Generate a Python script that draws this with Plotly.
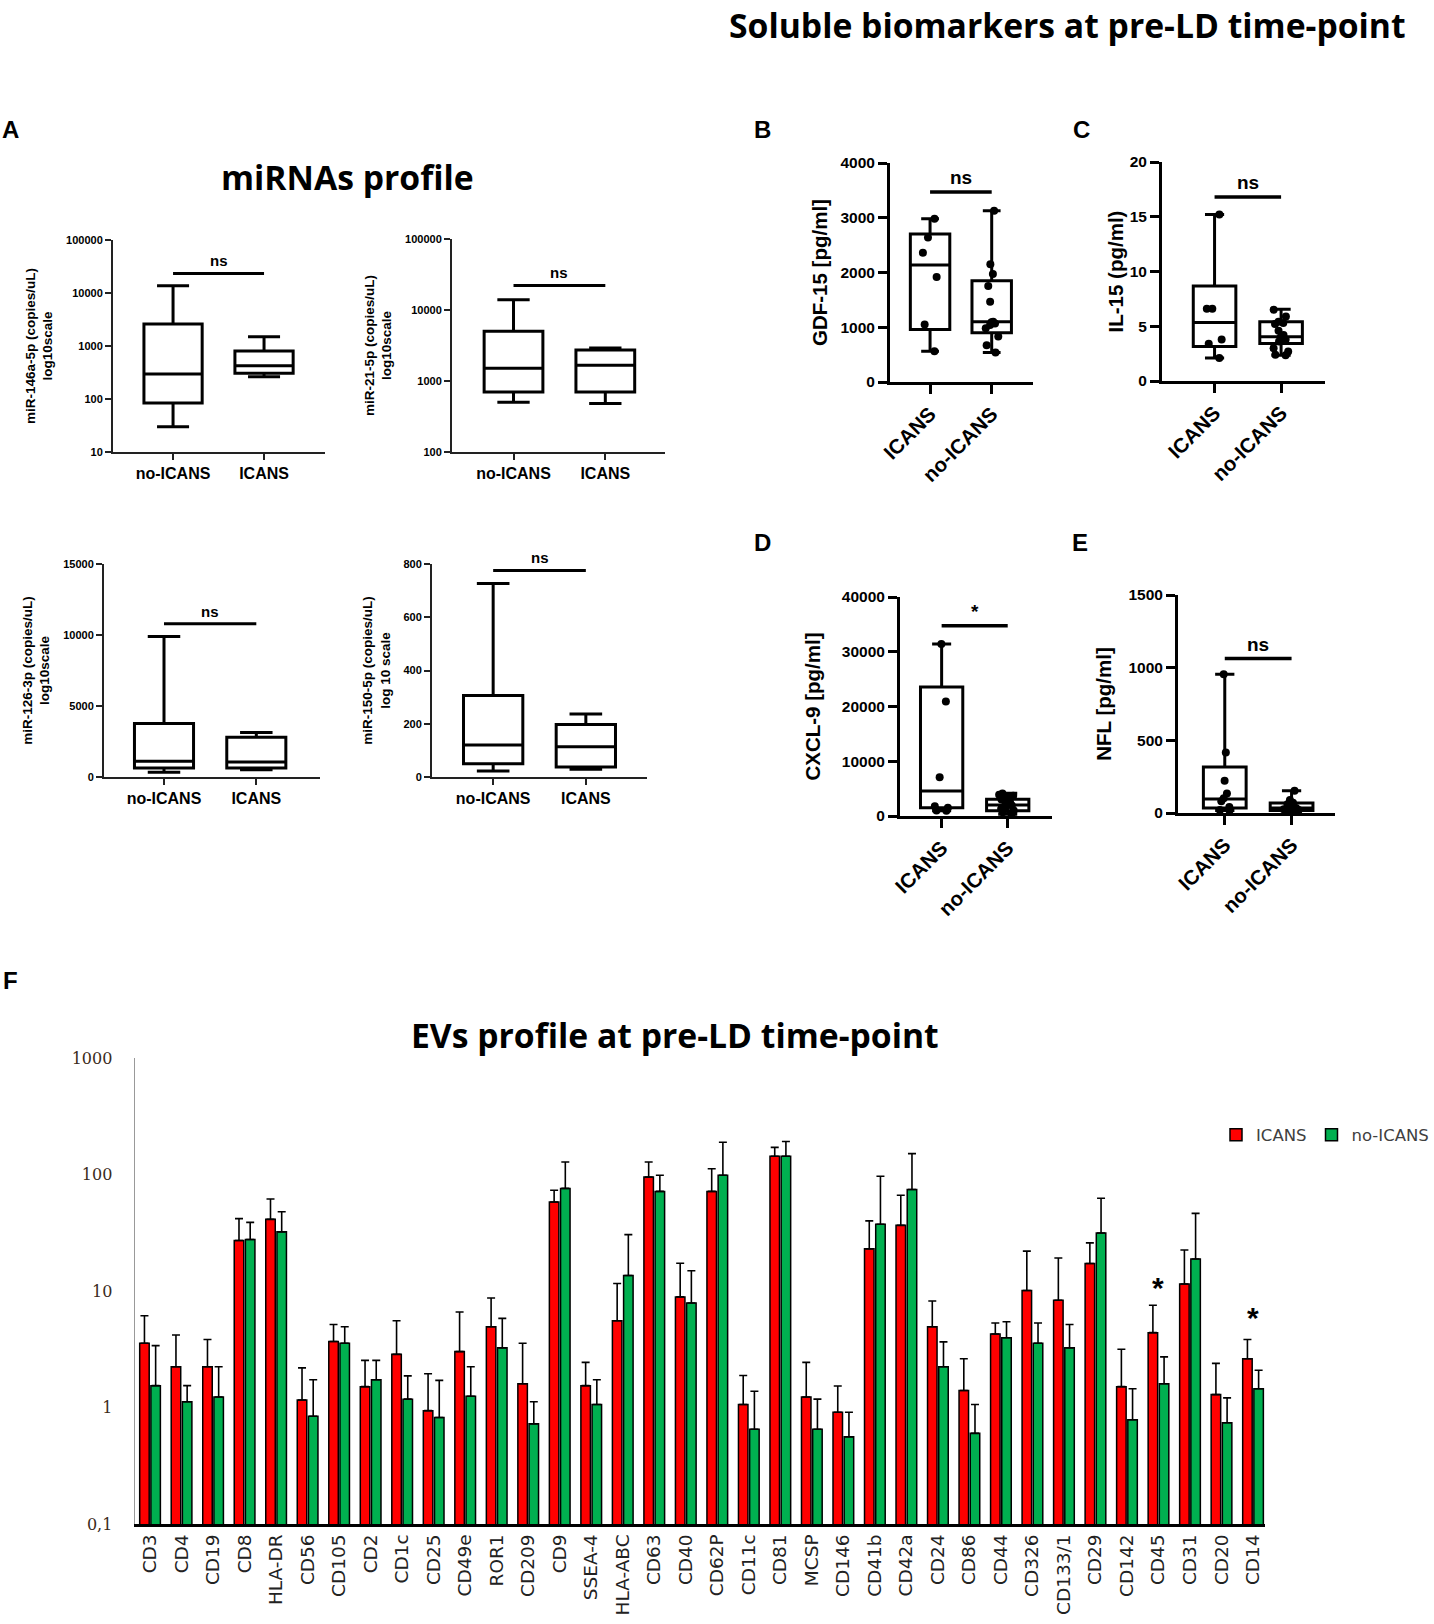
import numpy as np
import plotly.graph_objects as go

W, H = 1434, 1624

# ---------------- DATA ----------------
groups_A = ["no-ICANS", "ICANS"]
groups_B = ["ICANS", "no-ICANS"]

# Panel A - miRNAs (box statistics: min, q1, median, q3, max)
mir146_min = [30, 263]
mir146_q1 = [84, 305]
mir146_med = [297, 425]
mir146_q3 = [2600, 805]
mir146_max = [13700, 1500]

mir21_min = [500, 484]
mir21_q1 = [700, 700]
mir21_med = [1510, 1660]
mir21_q3 = [5000, 2740]
mir21_max = [13960, 2920]

mir126_min = [330, 515]
mir126_q1 = [635, 635]
mir126_med = [1107, 1050]
mir126_q3 = [3760, 2800]
mir126_max = [9890, 3125]

mir150_min = [23, 29]
mir150_q1 = [50, 38]
mir150_med = [120, 114]
mir150_q3 = [306, 197]
mir150_max = [727, 237]

# Panel B - GDF-15
gdf15_icans = [2980, 2640, 2360, 1920, 1050, 562]
gdf15_noicans = [3127, 2150, 1973, 1753, 1466, 1100, 1090, 1070, 1040, 980, 830, 670, 537]
gdf15_min = [562, 537]
gdf15_q1 = [959, 898]
gdf15_med = [2137, 1099]
gdf15_q3 = [2705, 1850]
gdf15_max = [2980, 3127]

# Panel C - IL-15
il15_icans = [15.2, 6.6, 6.6, 3.8, 3.4, 2.1]
il15_noicans = [6.5, 5.9, 5.4, 5.3, 5.2, 4.6, 4.2, 4.0, 3.8, 3.6, 3.0, 2.7, 2.4, 2.35]
il15_min = [2.1, 2.35]
il15_q1 = [3.15, 3.42]
il15_med = [5.34, 4.03]
il15_q3 = [8.67, 5.4]
il15_max = [15.2, 6.56]

# Panel D - CXCL-9
cxcl9_icans = [31400, 20900, 7100, 1800, 1500, 1000, 980]
cxcl9_noicans = [4100, 3900, 3700, 3500, 3300, 3000, 2700, 2400, 2100, 1900, 1600, 1300, 1000, 700, 300]
cxcl9_min = [980, 300]
cxcl9_q1 = [1525, 975]
cxcl9_med = [4573, 2000]
cxcl9_q3 = [23540, 3050]
cxcl9_max = [31400, 4150]

# Panel E - NFL
nfl_icans = [955, 417, 222, 135, 101, 80, 41, 20, 18]
nfl_noicans = [153, 90, 70, 60, 50, 45, 40, 35, 30, 25, 20, 15, 5]
nfl_min = [18, 5]
nfl_q1 = [34, 18]
nfl_med = [96, 34]
nfl_q3 = [316, 69]
nfl_max = [955, 153]

# significance bars (value level) and labels
sig_levels = {"A1": 23400, "A2": 22200, "A3": 10790, "A4": 776,
              "B": 3469, "C": 16.8, "D": 34760, "E": 1063}
sig_labels = {"A1": "ns", "A2": "ns", "A3": "ns", "A4": "ns",
              "B": "ns", "C": "ns", "D": "*", "E": "ns"}

# Panel F - EVs profile
ev_markers = ["CD3", "CD4", "CD19", "CD8", "HLA-DR", "CD56", "CD105", "CD2", "CD1c", "CD25",
              "CD49e", "ROR1", "CD209", "CD9", "SSEA-4", "HLA-ABC", "CD63", "CD40", "CD62P",
              "CD11c", "CD81", "MCSP", "CD146", "CD41b", "CD42a", "CD24", "CD86", "CD44",
              "CD326", "CD133/1", "CD29", "CD142", "CD45", "CD31", "CD20", "CD14"]
ev_icans = [3.56, 2.24, 2.24, 27.1, 41.2, 1.16, 3.69, 1.51, 2.86, 0.94, 3.02, 4.93, 1.60, 58.1,
            1.54, 5.56, 95.0, 8.9, 71.6, 1.06, 143.5, 1.23, 0.91, 23.0, 36.6, 4.93, 1.40, 4.28,
            10.1, 8.34, 17.2, 1.51, 4.39, 11.5, 1.29, 2.62]
ev_icans_top = [6.13, 4.19, 3.83, 41.8, 61.7, 2.19, 5.16, 2.54, 5.56, 1.95, 6.6, 8.71, 3.56, 73.3,
                2.44, 11.6, 128, 17.3, 112, 1.88, 171, 2.44, 1.53, 40.0, 66.4, 8.2, 2.62, 5.32,
                22.0, 19.2, 25.9, 3.16, 7.55, 22.5, 2.39, 3.83]
ev_noicans = [1.54, 1.12, 1.23, 27.7, 32.2, 0.84, 3.56, 1.73, 1.18, 0.82, 1.25, 3.25, 0.724, 76.0,
              1.06, 13.6, 71.6, 7.9, 98.6, 0.65, 143.5, 0.65, 0.56, 37.4, 74.3, 2.24, 0.60, 3.97,
              3.56, 3.25, 31.5, 0.785, 1.60, 18.8, 0.74, 1.45]
ev_noicans_top = [3.40, 1.54, 2.24, 38.8, 47.9, 1.73, 4.93, 2.54, 1.87, 1.71, 2.24, 5.82, 1.12, 128,
                  1.73, 30.5, 98.6, 14.9, 189, 1.38, 192, 1.18, 0.91, 96.6, 151, 3.66, 1.06, 5.44,
                  5.32, 5.16, 62.5, 1.45, 2.72, 46.4, 1.21, 2.09]
ev_sig_markers = ["CD45", "CD14"]
ev_sig_levels = [10.8, 5.9]
ev_ticks = [0.1, 1, 10, 100, 1000]
ev_ticktext = ["0,1", "1", "10", "100", "1000"]

# ---------------- LAYOUT HELPERS ----------------
def dx(a, b):
    return [a / W, b / W]

def dy(top, bottom):
    return [1 - bottom / H, 1 - top / H]

FONT = "Liberation Sans, Arial, sans-serif"
fig = go.Figure()
layout = dict(width=W, height=H, margin=dict(l=0, r=0, t=0, b=0, autoexpand=False),
              paper_bgcolor="white", plot_bgcolor="white", autosize=False,
              boxmode="overlay", barmode="group", bargap=0.29, bargroupgap=0.15,
              showlegend=True)
annotations = []

panels = [
    dict(pid="A1", n=1, xd=(113, 325), yd=(240, 452), xr=[-0.66, 1.67], log=True, yr=[1, 5],
         yt=[10, 100, 1000, 10000, 100000], title="miR-146a-5p (copies/uL)<br>log10scale", so=10,
         cats=groups_A, stats=(mir146_min, mir146_q1, mir146_med, mir146_q3, mir146_max), pts=None, small=True),
    dict(pid="A2", n=2, xd=(452, 665), yd=(239, 452), xr=[-0.67, 1.65], log=True, yr=[2, 5],
         yt=[100, 1000, 10000, 100000], title="miR-21-5p (copies/uL)<br>log10scale", so=10,
         cats=groups_A, stats=(mir21_min, mir21_q1, mir21_med, mir21_q3, mir21_max), pts=None, small=True),
    dict(pid="A3", n=3, xd=(104, 320), yd=(564, 777), xr=[-0.65, 1.69], log=False, yr=[0, 15000],
         yt=[0, 5000, 10000, 15000], title="miR-126-3p (copies/uL)<br>log10scale", so=10,
         cats=groups_A, stats=(mir126_min, mir126_q1, mir126_med, mir126_q3, mir126_max), pts=None, small=True),
    dict(pid="A4", n=4, xd=(432, 647), yd=(564, 777), xr=[-0.66, 1.66], log=False, yr=[0, 800],
         yt=[0, 200, 400, 600, 800], title="miR-150-5p (copies/uL)<br>log 10 scale", so=10,
         cats=groups_A, stats=(mir150_min, mir150_q1, mir150_med, mir150_q3, mir150_max), pts=None, small=True),
    dict(pid="B", n=5, xd=(890, 1033), yd=(163, 382), xr=[-0.65, 1.67], log=False, yr=[0, 4000],
         yt=[0, 1000, 2000, 3000, 4000], title="GDF-15 [pg/ml]", so=8,
         cats=groups_B, stats=(gdf15_min, gdf15_q1, gdf15_med, gdf15_q3, gdf15_max),
         pts=(gdf15_icans, gdf15_noicans), small=False),
    dict(pid="C", n=6, xd=(1162, 1325), yd=(162, 381), xr=[-0.79, 1.66], log=False, yr=[0, 20],
         yt=[0, 5, 10, 15, 20], title="IL-15 (pg/ml)", so=1,
         cats=groups_B, stats=(il15_min, il15_q1, il15_med, il15_q3, il15_max),
         pts=(il15_icans, il15_noicans), small=False),
    dict(pid="D", n=7, xd=(900, 1052), yd=(597, 816), xr=[-0.63, 1.67], log=False, yr=[0, 40000],
         yt=[0, 10000, 20000, 30000, 40000], title="CXCL-9 [pg/ml]", so=16,
         cats=groups_B, stats=(cxcl9_min, cxcl9_q1, cxcl9_med, cxcl9_q3, cxcl9_max),
         pts=(cxcl9_icans, cxcl9_noicans), small=False),
    dict(pid="E", n=8, xd=(1178, 1335), yd=(595, 813), xr=[-0.70, 1.65], log=False, yr=[0, 1500],
         yt=[0, 500, 1000, 1500], title="NFL [pg/ml]", so=12,
         cats=groups_B, stats=(nfl_min, nfl_q1, nfl_med, nfl_q3, nfl_max),
         pts=(nfl_icans, nfl_noicans), small=False),
]

for p in panels:
    n = p["n"]
    xa, ya = f"x{n}", f"y{n}"
    small = p["small"]
    lw = 2 if small else 3
    mn, q1, md, q3, mx = p["stats"]
    pos = list(range(len(p["cats"])))
    fig.add_trace(go.Box(x=pos, q1=q1, median=md, q3=q3, lowerfence=mn, upperfence=mx,
                         boxpoints=False, fillcolor="white",
                         line=dict(color="black", width=3), whiskerwidth=0.55 if small else 0.45,
                         width=0.64, xaxis=xa, yaxis=ya, showlegend=False, hoverinfo="skip"))
    if p["pts"] is not None:
        for i, vals in enumerate(p["pts"]):
            fig.add_trace(go.Box(y=vals, x0=i, boxpoints="all", jitter=0.55, pointpos=0,
                                 fillcolor="rgba(0,0,0,0)",
                                 line=dict(color="rgba(0,0,0,0)", width=0),
                                 marker=dict(color="black", size=8),
                                 width=0.5, xaxis=xa, yaxis=ya, showlegend=False,
                                 hoverinfo="skip"))
    # significance bar
    lev = sig_levels[p["pid"]]
    fig.add_trace(go.Scatter(x=[0, 1], y=[lev, lev], mode="lines",
                             line=dict(color="black", width=3 if small else 3.5),
                             xaxis=xa, yaxis=ya, showlegend=False, hoverinfo="skip"))
    ylev = np.log10(lev) if p["log"] else lev
    annotations.append(dict(xref=xa, yref=ya, x=0.5, y=ylev, text=sig_labels[p["pid"]],
                            showarrow=False, yanchor="bottom", yshift=2,
                            font=dict(family=FONT, size=15 if small else 19, color="black",
                                      weight=700)))

    tickfont = dict(family=FONT, size=11 if small else 15.5, color="black", weight=700)
    catfont = dict(family=FONT, size=16 if small else 20.5, color="black", weight=700)
    lc = "#222" if small else "black"
    layout[f"xaxis{n}"] = dict(domain=dx(*p["xd"]), anchor=ya, type="linear", range=p["xr"],
                               tickvals=pos, ticktext=p["cats"], tickangle=0 if small else -45,
                               showline=True, linecolor=lc, linewidth=lw,
                               ticks="outside", ticklen=6 if small else 9, tickwidth=lw,
                               tickcolor=lc, showgrid=False, zeroline=False, tickfont=catfont,
                               automargin=False, fixedrange=True)
    layout[f"yaxis{n}"] = dict(domain=dy(*p["yd"]), anchor=xa, type="log" if p["log"] else "linear",
                               range=p["yr"], tickvals=p["yt"], ticktext=[str(v) for v in p["yt"]],
                               showline=True, linecolor=lc, linewidth=lw,
                               ticks="outside", ticklen=6 if small else 9, tickwidth=lw,
                               tickcolor=lc, showgrid=False, zeroline=False, tickfont=tickfont,
                               title=dict(text=p["title"], standoff=p["so"],
                                          font=dict(family=FONT, size=13.5 if small else 20.5,
                                                    color="black", weight=700)),
                               automargin=False, fixedrange=True)

# ---------------- PANEL F ----------------
xpos = list(range(len(ev_markers)))
err_i = [t - v for t, v in zip(ev_icans_top, ev_icans)]
err_n = [t - v for t, v in zip(ev_noicans_top, ev_noicans)]
fig.add_trace(go.Bar(x=xpos, y=ev_icans, name="ICANS", xaxis="x9", yaxis="y9",
                     marker=dict(color="#FF0000", line=dict(color="black", width=1.5)),
                     error_y=dict(type="data", array=err_i, arrayminus=[0] * len(err_i),
                                  symmetric=False, color="black", thickness=1.6, width=4)))
fig.add_trace(go.Bar(x=xpos, y=ev_noicans, name="no-ICANS", xaxis="x9", yaxis="y9",
                     marker=dict(color="#00B050", line=dict(color="black", width=1.5)),
                     error_y=dict(type="data", array=err_n, arrayminus=[0] * len(err_n),
                                  symmetric=False, color="black", thickness=1.6, width=4)))
layout["xaxis9"] = dict(domain=dx(134.6, 1265), anchor="y9", type="linear", range=[-0.49, 35.38],
                        tickvals=xpos, ticktext=ev_markers, tickangle=-90,
                        showline=True, linecolor="black", linewidth=3, ticks="",
                        showgrid=False, zeroline=False,
                        tickfont=dict(family="DejaVu Sans, Verdana, sans-serif", size=18.5, color="#222"),
                        automargin=False, fixedrange=True)
layout["yaxis9"] = dict(domain=dy(1058, 1524), anchor="x9", type="log", range=[-1, 3],
                        tickvals=ev_ticks, ticktext=ev_ticktext, ticks="",
                        showline=True, linecolor="#999", linewidth=1,
                        showgrid=False, zeroline=False, ticklabelstandoff=18,
                        tickfont=dict(family="DejaVu Serif, serif", size=16, color="#3a2a1a"),
                        automargin=False, fixedrange=True)
for m, lev in zip(ev_sig_markers, ev_sig_levels):
    annotations.append(dict(xref="x9", yref="y9", x=ev_markers.index(m), y=np.log10(lev),
                            text="*", showarrow=False,
                            font=dict(family=FONT, size=30, color="black", weight=700)))

layout["legend"] = dict(orientation="h", x=1.0, y=1 - 1135 / H,
                        xanchor="right", yanchor="middle", bgcolor="rgba(0,0,0,0)", itemwidth=30,
                        font=dict(family="DejaVu Sans, Verdana, sans-serif", size=16.5, color="#404040"))

# ---------------- TITLES / LETTERS ----------------
TFONT = "Open Sans, sans-serif"
def paper_text(x, y, text, size, family, yanchor="middle"):
    annotations.append(dict(xref="paper", yref="paper", x=x / W, y=1 - y / H,
                            text=text, showarrow=False, xanchor="center", yanchor=yanchor,
                            font=dict(family=family, size=size, color="black", weight=700)))

paper_text(1067, 0, "Soluble biomarkers at pre-LD time-point", 33.7, TFONT, yanchor="top")
paper_text(347, 177, "miRNAs profile", 33.7, TFONT)
paper_text(675, 1035, "EVs profile at pre-LD time-point", 33.7, TFONT)
for letter, lx, ly in [("A", 10.5, 129), ("B", 762, 129), ("C", 1081, 129),
                       ("D", 762, 542), ("E", 1080, 542), ("F", 10.5, 980)]:
    paper_text(lx, ly, letter, 24, FONT)

layout["annotations"] = annotations
fig.update_layout(**layout)

fig.write_html("out.html", config={"displayModeBar": False},
               post_script="document.documentElement.style.margin='0';document.body.style.margin='0';document.body.style.padding='0';")
